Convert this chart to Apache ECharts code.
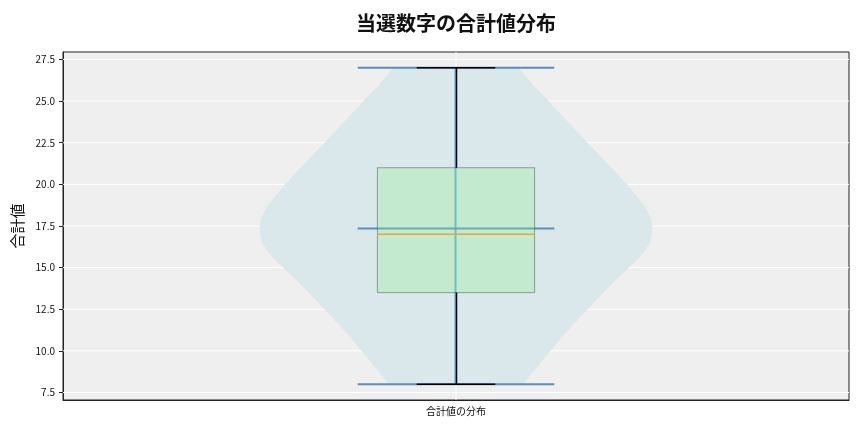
<!DOCTYPE html>
<html>
<head>
<meta charset="utf-8">
<script src="https://cdn.jsdelivr.net/npm/echarts@6/dist/echarts.min.js"></script>
<style>
  html, body { margin: 0; padding: 0; background: #fff; }
  #main { width: 864px; height: 432px; }
</style>
</head>
<body>
<div id="main"></div>
<script>
// データ
const categories = ['合計値の分布'];
const yTicks = [7.5, 10, 12.5, 15, 17.5, 20, 22.5, 25, 27.5];
// バイオリンの輪郭（相対幅）
const violinY = [8, 9, 10, 11, 12, 13, 14, 15, 15.5, 16, 16.5, 17, 17.5, 18, 18.5, 19, 20, 21, 22, 23, 24, 25, 26, 27];
const violinDensity = [0.34, 0.41, 0.48, 0.55, 0.63, 0.71, 0.79, 0.88, 0.925, 0.96, 0.985, 0.997, 1.0, 0.99, 0.97, 0.94, 0.87, 0.79, 0.71, 0.63, 0.55, 0.47, 0.39, 0.32];
// 箱ひげ: 最小, 第1四分位, 中央値, 第3四分位, 最大
const boxStats = [8, 13.5, 17, 21, 27];
const meanValue = 17.35;

const FONT = '"Noto Sans CJK JP", "Noto Sans", sans-serif';

function hGrid(params, api) {
  const cs = params.coordSys;
  const p = api.coord([0, api.value(1)]);
  return { type: 'line', shape: { x1: cs.x, y1: p[1], x2: cs.x + cs.width, y2: p[1] },
    style: { stroke: '#ffffff', lineWidth: 1 } };
}

function vGrid(params, api) {
  const cs = params.coordSys;
  const p = api.coord([api.value(0), 0]);
  return { type: 'line', shape: { x1: p[0], y1: cs.y, x2: p[0], y2: cs.y + cs.height },
    style: { stroke: '#ffffff', lineWidth: 1 } };
}

function violinBody(params, api) {
  const idx = api.value(0);
  const half = api.size([1, 0])[0] * 0.25;
  const right = [], left = [];
  violinY.forEach((y, i) => {
    const p = api.coord([idx, y]);
    right.push([p[0] + half * violinDensity[i], p[1]]);
    left.unshift([p[0] - half * violinDensity[i], p[1]]);
  });
  return { type: 'polygon', shape: { points: right.concat(left) },
    style: { fill: '#dae7eb' } };
}

function violinLines(params, api) {
  const idx = api.value(0);
  const half = api.size([1, 0])[0] * 0.125;
  const top = api.coord([idx, boxStats[4]]);
  const bot = api.coord([idx, boxStats[0]]);
  const mean = api.coord([idx, meanValue]);
  const st = { stroke: '#5b8db8', lineWidth: 2 };
  const hl = (p) => ({ type: 'line', shape: { x1: p[0] - half, y1: p[1], x2: p[0] + half, y2: p[1] }, style: st });
  return { type: 'group', children: [
    { type: 'line', shape: { x1: top[0] - 0.5, y1: top[1], x2: bot[0] - 0.5, y2: bot[1] },
      style: { stroke: '#62a9d8', lineWidth: 2 } },
    hl(top), hl(bot), hl(mean)
  ] };
}

function boxPlot(params, api) {
  const idx = api.value(0);
  const band = api.size([1, 0])[0];
  const bh = band * 0.1, ch = band * 0.05;
  const pts = boxStats.map(v => api.coord([idx, v]));
  const cx = pts[0][0];
  const black = { stroke: '#000', lineWidth: 1.5 };
  return { type: 'group', children: [
    { type: 'rect', shape: { x: cx - bh, y: pts[3][1], width: bh * 2, height: pts[1][1] - pts[3][1] },
      style: { fill: 'rgba(144,238,144,0.3)', stroke: 'rgba(40,70,50,0.45)', lineWidth: 1 } },
    { type: 'line', shape: { x1: cx + 0.5, y1: pts[0][1], x2: cx + 0.5, y2: pts[1][1] }, style: black },
    { type: 'line', shape: { x1: cx + 0.5, y1: pts[3][1], x2: cx + 0.5, y2: pts[4][1] }, style: black },
    { type: 'line', shape: { x1: cx - ch, y1: pts[0][1], x2: cx + ch, y2: pts[0][1] }, style: black },
    { type: 'line', shape: { x1: cx - ch, y1: pts[4][1], x2: cx + ch, y2: pts[4][1] }, style: black },
    { type: 'line', shape: { x1: cx - bh, y1: pts[2][1], x2: cx + bh, y2: pts[2][1] },
      style: { stroke: '#eaa23a', lineWidth: 1.5 } }
  ] };
}

const chart = echarts.init(document.getElementById('main'), null, { renderer: 'canvas' });
const catData = categories.map((c, i) => [i]);

chart.setOption({
  animation: false,
  textStyle: { fontFamily: FONT },
  title: {
    text: '当選数字の合計値分布',
    left: 451, top: 8, textAlign: 'center',
    textStyle: { fontFamily: FONT, fontSize: 20, fontWeight: 'bold', color: '#111' }
  },
  grid: {
    left: 63, right: 15, top: 52, bottom: 32,
    show: true, backgroundColor: '#efefef', borderColor: '#222', borderWidth: 1
  },
  xAxis: {
    type: 'category', data: categories, boundaryGap: true,
    axisLine: { lineStyle: { color: '#222', width: 1 } },
    axisTick: { alignWithLabel: true, length: 4, lineStyle: { color: '#222' } },
    axisLabel: { fontFamily: FONT, fontSize: 10, color: '#111', margin: 6 },
    splitLine: { show: false }
  },
  yAxis: {
    type: 'value', min: 7.05, max: 27.95,
    name: '合計値', nameLocation: 'middle', nameGap: 36,
    nameTextStyle: { fontFamily: FONT, fontSize: 15, color: '#111' },
    axisLine: { show: true, lineStyle: { color: '#222', width: 1 } },
    axisTick: { show: true, length: 4, customValues: yTicks, lineStyle: { color: '#222' } },
    axisLabel: { fontFamily: FONT, fontSize: 10, color: '#111', margin: 8,
      customValues: yTicks, formatter: v => v.toFixed(1) },
    splitLine: { show: false }
  },
  series: [
    { type: 'custom', name: 'hgrid', silent: true, z: 1, renderItem: hGrid,
      data: yTicks.map(v => [0, v]) },
    { type: 'custom', name: 'vgrid', silent: true, z: 1, renderItem: vGrid, data: catData },
    { type: 'custom', name: 'violin', silent: true, z: 2, renderItem: violinBody, data: catData },
    { type: 'custom', name: 'violinLines', silent: true, z: 3, renderItem: violinLines, data: catData },
    { type: 'custom', name: 'box', silent: true, z: 4, renderItem: boxPlot, data: catData }
  ]
});
</script>
</body>
</html>
